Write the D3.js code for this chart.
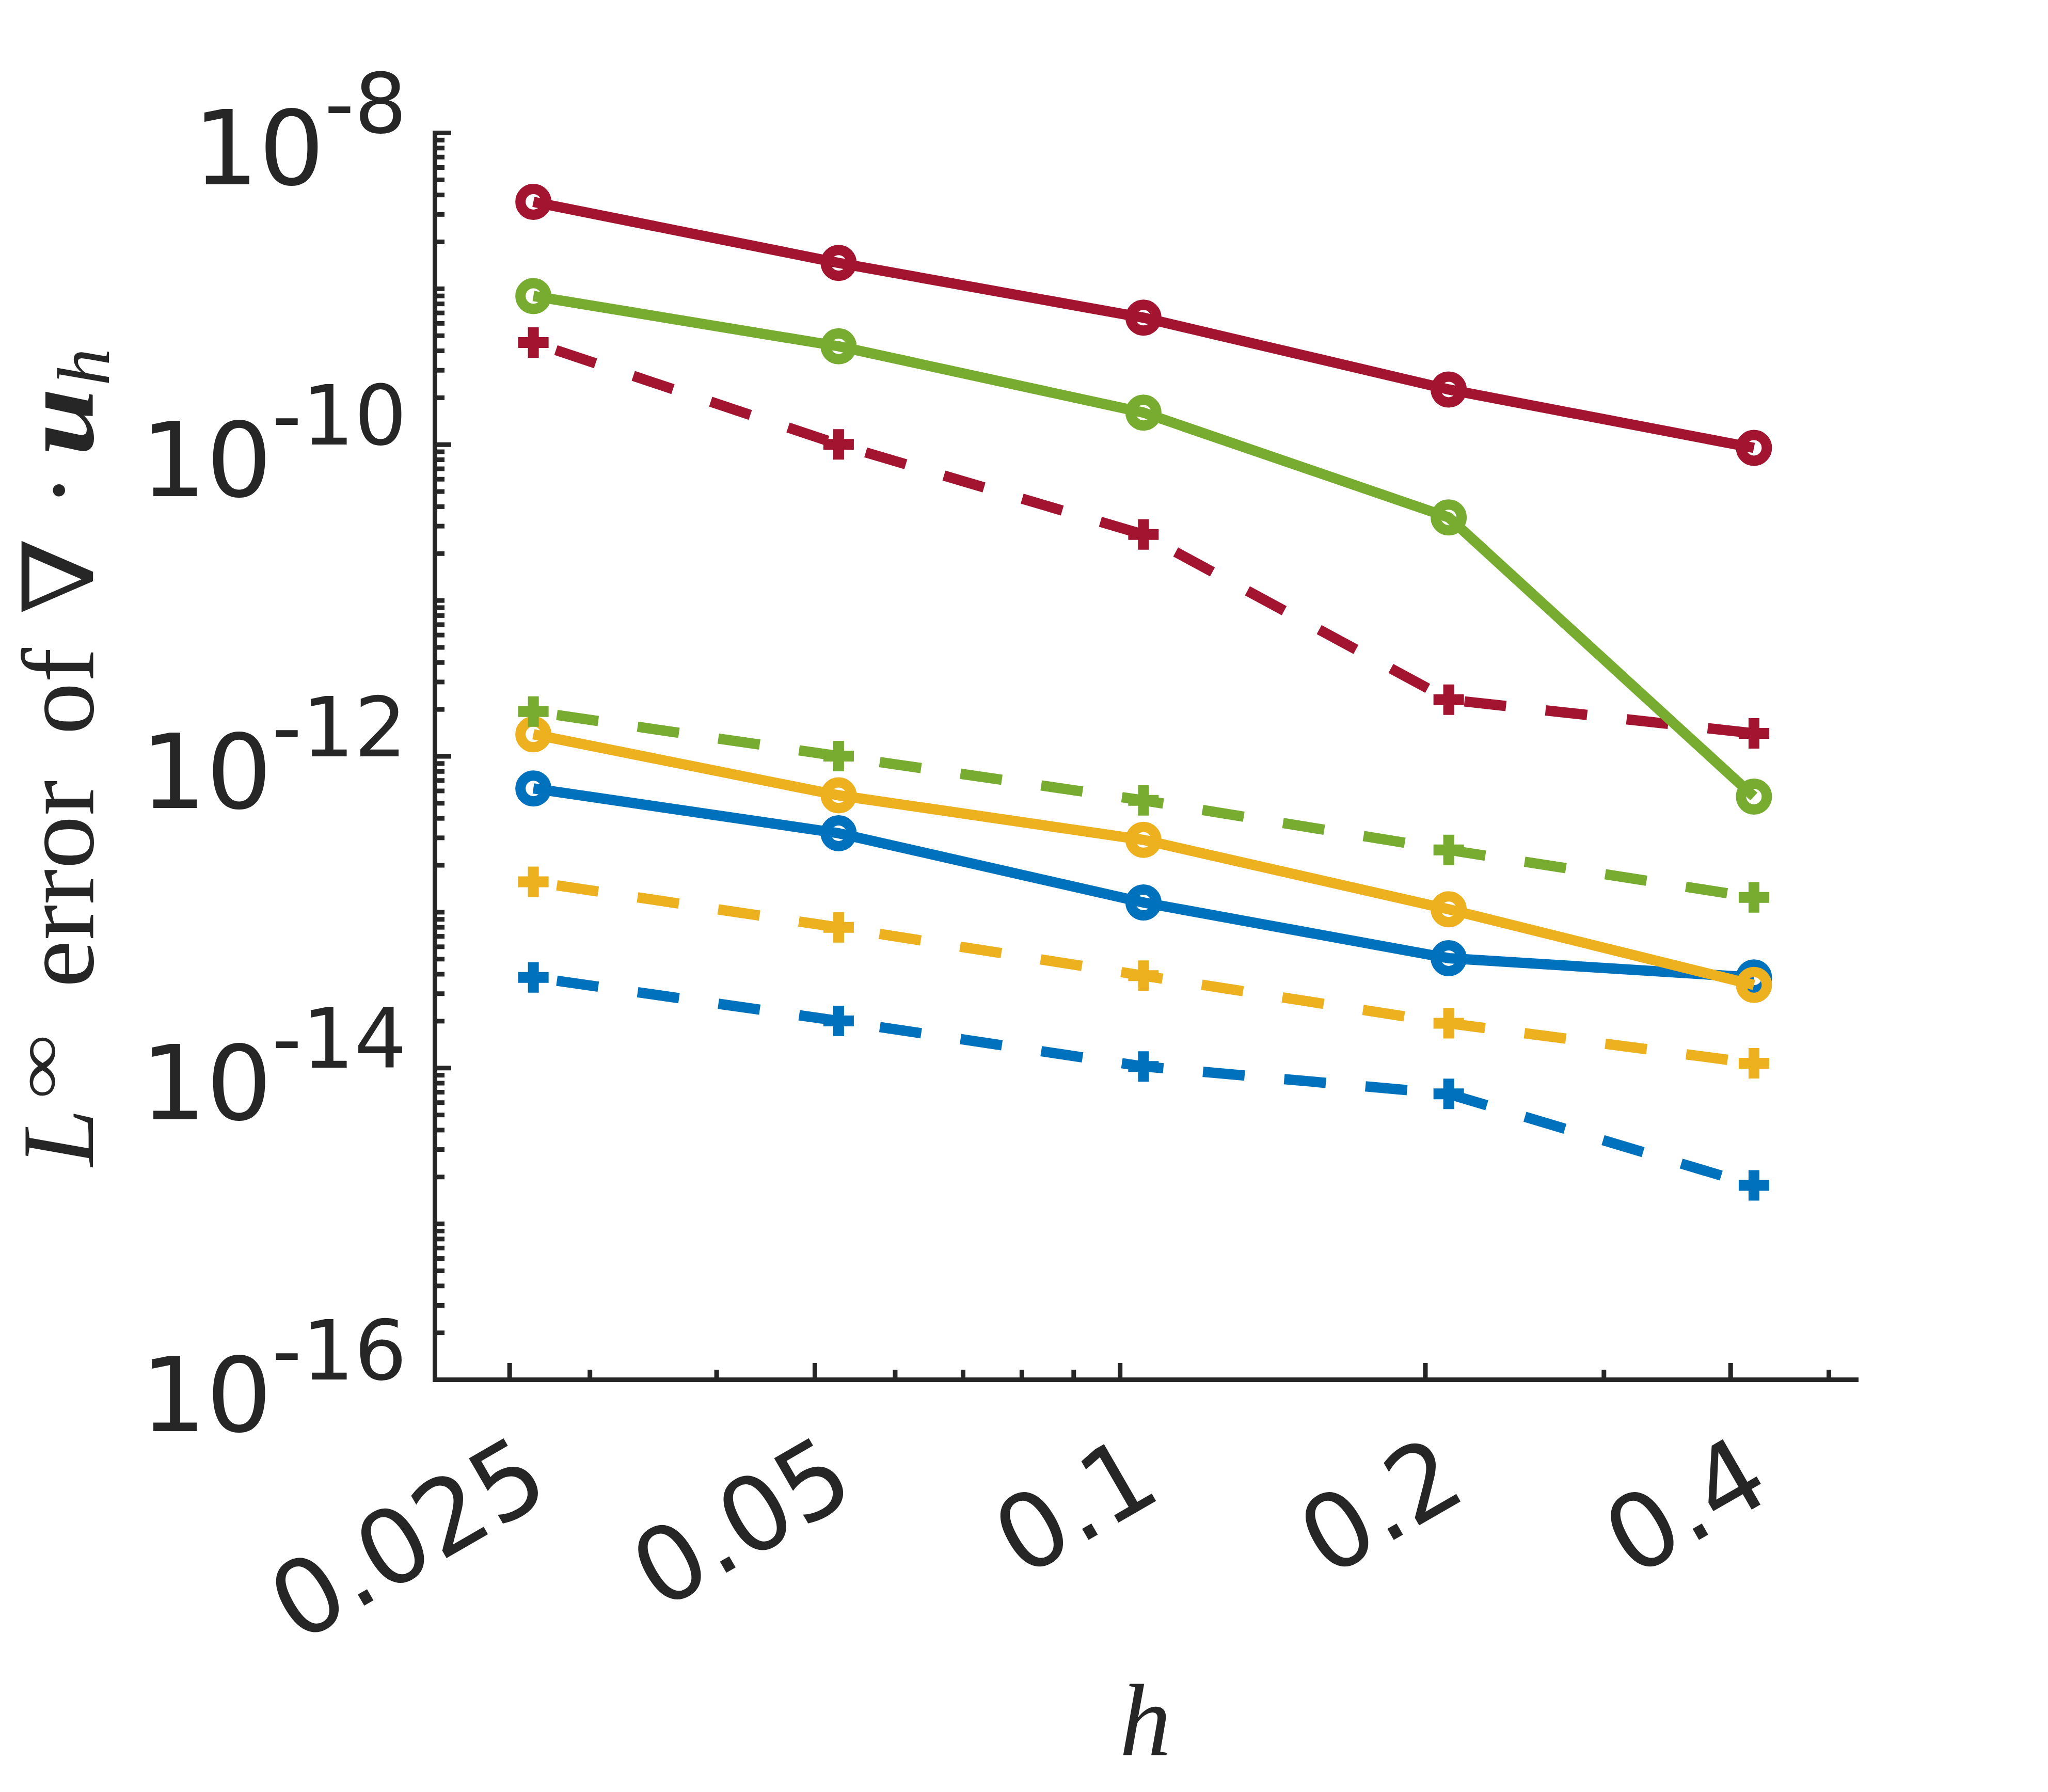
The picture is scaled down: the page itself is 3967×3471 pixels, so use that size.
<!DOCTYPE html>
<html>
<head>
<meta charset="utf-8">
<script src="https://cdn.jsdelivr.net/npm/d3@7"></script>
<style>
  html, body { margin: 0; padding: 0; background: #fff; }
  svg { display: block; }
</style>
</head>
<body>
<div id="chart"></div>
<script>
const colorpel = {
    "blue": "#0072BD", "yellow": "#EDB120", "red": "#A2142F", "green": "#77AC30",
    "axis": "#262626"}

// mesh sizes and errors
const hValues = [0.0264, 0.0528, 0.1055, 0.211, 0.422];
const blueSolid = [6.2e-13, 3.2e-13, 1.15e-13, 5.05e-14, 3.8e-14];
const blueDashed = [3.8e-14, 2.0e-14, 1.02e-14, 6.8e-15, 1.76e-15];
const yellowSolid = [1.38e-12, 5.6e-13, 2.9e-13, 1.04e-13, 3.4e-14];
const yellowDashed = [1.56e-13, 7.96e-14, 3.9e-14, 1.93e-14, 1.07e-14];
const redSolid = [3.6e-9, 1.46e-9, 6.5e-10, 2.25e-10, 9.5e-11];
const redDashed = [4.5e-10, 1.0e-10, 2.64e-11, 2.3e-12, 1.4e-12];
const greenSolid = [8.95e-10, 4.26e-10, 1.6e-10, 3.4e-11, 5.5e-13];
const greenDashed = [1.93e-12, 1.0e-12, 5.2e-13, 2.5e-13, 1.24e-13];

const xMajorTicks = [0.025, 0.05, 0.1, 0.2, 0.4];
const xTickLabels = ["0.025", "0.05", "0.1", "0.2", "0.4"];
const xMinorTicks = [0.03, 0.04, 0.06, 0.07, 0.08, 0.09, 0.3, 0.5];
const yMajorExps = [-8, -10, -12, -14, -16];

// drawing order matters: later series sit on top
const series = [
    {vals: blueSolid, color: colorpel.blue, dashed: false},
    {vals: blueDashed, color: colorpel.blue, dashed: true},
    {vals: yellowSolid, color: colorpel.yellow, dashed: false},
    {vals: yellowDashed, color: colorpel.yellow, dashed: true},
    {vals: redSolid, color: colorpel.red, dashed: false},
    {vals: redDashed, color: colorpel.red, dashed: true},
    {vals: greenSolid, color: colorpel.green, dashed: false},
    {vals: greenDashed, color: colorpel.green, dashed: true}
];

let width = 3967, height = 3471;
let pLeft = 842, pRight = 3595, pTop = 257, pBottom = 2672;

let x = d3.scaleLog().domain([0.0211, 0.532]).range([pLeft, pRight]);
let y = d3.scaleLog().domain([1e-16, 1e-8]).range([pBottom, pTop]);

// minor ticks on y: 2..9 x 10^k plus the odd decades
let yMinorTicks = [];
for (let k = -16; k < -8; k++) {
    for (let m = 1; m <= 9; m++) {
        if (m === 1 && k % 2 === 0) continue;
        yMinorTicks.push(m * Math.pow(10, k));
    }
}

let svg = d3.select("#chart")
    .append("svg")
    .attr("width", width)
    .attr("height", height)
    .style("background", "#fff");

// lines + markers
const lineg = d3.line().x((d, i) => x(hValues[i])).y(d => y(d));
const plusPath = 'M-29.5,0H29.5M0,-29.5V29.5';

let g_data = svg.append("g").attr("class", "data");
series.forEach(s => {
    let g = g_data.append("g");
    g.append("path")
        .attr("d", lineg(s.vals))
        .attr("fill", "none")
        .attr("stroke", s.color)
        .attr("stroke-width", 20)
        .attr("stroke-linejoin", "round")
        .attr("stroke-dasharray", s.dashed ? "81 77" : null)
        .attr("stroke-dashoffset", s.dashed ? 112 : null);

    if (s.dashed) {
        g.selectAll(".mk").data(s.vals).enter()
            .append("path").attr("class", "mk")
            .attr("d", plusPath)
            .attr("transform", (d, i) => `translate(${x(hValues[i])},${y(d)})`)
            .attr("stroke", s.color)
            .attr("stroke-width", 21)
            .attr("fill", "none");
    } else {
        g.selectAll(".mk").data(s.vals).enter()
            .append("circle").attr("class", "mk")
            .attr("cx", (d, i) => x(hValues[i]))
            .attr("cy", d => y(d))
            .attr("r", 25)
            .attr("stroke", s.color)
            .attr("stroke-width", 20)
            .attr("fill", "none");
    }
});

// axes (ticks point inward)
const styleAxis = g => {
    g.selectAll(".domain").attr("stroke", colorpel.axis).attr("stroke-width", 9)
        .attr("stroke-linecap", "square");
    g.selectAll(".tick line").attr("stroke", colorpel.axis).attr("stroke-width", 9);
    g.selectAll("text").remove();
}

svg.append("g").attr("transform", `translate(0,${pBottom})`)
    .call(d3.axisBottom(x).tickValues(xMinorTicks).tickSizeInner(-19).tickSizeOuter(0))
    .call(styleAxis);
svg.append("g").attr("transform", `translate(0,${pBottom})`)
    .call(d3.axisBottom(x).tickValues(xMajorTicks).tickSizeInner(-32).tickSizeOuter(0))
    .call(styleAxis);
svg.append("g").attr("transform", `translate(${pLeft},0)`)
    .call(d3.axisLeft(y).tickValues(yMinorTicks).tickSizeInner(-19).tickSizeOuter(0))
    .call(styleAxis);
svg.append("g").attr("transform", `translate(${pLeft},0)`)
    .call(d3.axisLeft(y).tickValues(yMajorExps.map(k => Math.pow(10, k))).tickSizeInner(-32).tickSizeOuter(0))
    .call(styleAxis);

// y tick labels 10^k
let ylab = svg.append("g").attr("font-family", "DejaVu Sans").attr("fill", colorpel.axis);
yMajorExps.forEach(k => {
    let t = ylab.append("text")
        .attr("x", 788)
        .attr("y", y(Math.pow(10, k)) + 100)
        .attr("text-anchor", "end");
    t.append("tspan").attr("font-size", 200).text("10");
    t.append("tspan").attr("font-size", 160).attr("dy", -100).text(String(k));
});

// x tick labels, rotated 30 deg
let xlab = svg.append("g").attr("font-family", "DejaVu Sans").attr("fill", colorpel.axis);
xMajorTicks.forEach((t, i) => {
    let ax = x(t) + 86, ay = pBottom + 226;
    xlab.append("text")
        .attr("x", ax).attr("y", ay)
        .attr("text-anchor", "end")
        .attr("font-size", 200)
        .attr("transform", `rotate(-30,${ax},${ay})`)
        .text(xTickLabels[i]);
});

// x label
svg.append("text")
    .attr("x", (pLeft + pRight) / 2)
    .attr("y", 3400)
    .attr("text-anchor", "middle")
    .attr("font-family", "Liberation Serif")
    .attr("font-style", "italic")
    .attr("font-size", 200)
    .attr("fill", colorpel.axis)
    .text("h");

// y label  L^inf error of nabla . u_h
let yl = svg.append("g")
    .attr("transform", "translate(180,2259) rotate(-90)")
    .attr("font-family", "Liberation Serif")
    .attr("fill", colorpel.axis);
const piece = (txt, px, py, size, opts) => {
    let t = yl.append("text").attr("x", px).attr("y", py).attr("font-size", size).text(txt);
    if (opts.style) t.attr("font-style", opts.style);
    if (opts.weight) t.attr("font-weight", opts.weight);
    if (opts.family) t.attr("font-family", opts.family);
    if (opts.len) t.attr("textLength", opts.len).attr("lengthAdjust", "spacingAndGlyphs");
    return t;
}
piece("L", 0, 0, 200, {style: "italic"});
piece("\u221E", 130, -60, 130, {len: 126});
piece("error", 346, 0, 200, {len: 402});
piece("of", 836, 0, 200, {len: 168});
piece("\u2207", 1068, 0, 190, {family: "DejaVu Serif", len: 150});
piece("\u00B7", 1276, 0, 200, {});
piece("u", 1376, 0, 200, {style: "italic", weight: "bold", len: 132});
piece("h", 1512, 31, 144, {style: "italic"});
</script>
</body>
</html>
